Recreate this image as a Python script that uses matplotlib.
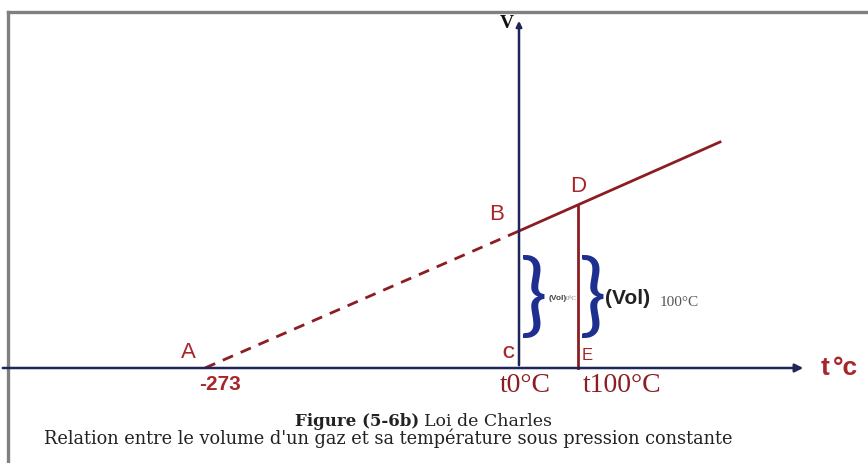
import matplotlib.pyplot as plt

# schematic coordinates (pixel-like units, y grows downward)
axis_y = 368
v_axis_x = 519
point_names = ['A', 'B', 'D']
point_x = [205, 519, 578]
point_y = [368, 231, 205]
line_end = (720, 142)
temp_labels = ['-273', 't0°C', 't100°C']
caption = ['Figure (5-6b)', 'Loi de Charles',
           "Relation entre le volume d'un gaz et sa température sous pression constante"]

navy = '#1e2558'
maroon = '#8c1d22'
red = '#a8262b'
blue = '#1f2f8f'

fig = plt.figure(figsize=(8.68, 4.63), dpi=100)
ax = fig.add_axes([0, 0, 1, 1])
ax.set_xlim(0, 868)
ax.set_ylim(463, 0)
ax.axis('off')

# frame (top + left only)
ax.plot([8, 868], [12, 12], color='#808080', lw=2.4)
ax.plot([8, 8], [12, 463], color='#808080', lw=2.4)

# axes
ax.annotate('', xy=(806, axis_y), xytext=(0, axis_y),
            arrowprops=dict(arrowstyle='-|>', color=navy, lw=1.8, mutation_scale=12))
ax.annotate('', xy=(v_axis_x, 18), xytext=(v_axis_x, axis_y),
            arrowprops=dict(arrowstyle='-|>', color=navy, lw=1.8, mutation_scale=8))
ax.text(v_axis_x - 12, 24, 'V', fontsize=14, fontweight='bold', family='Liberation Serif',
        ha='center', va='center', color='#111111')
ax.text(821, axis_y, 't', fontsize=19, fontweight='bold', family='Liberation Sans',
        ha='left', va='center', color=red)
ax.text(833, axis_y, '°c', fontsize=19, fontweight='bold', family='Liberation Sans',
        ha='left', va='center', color=red)

# dashed extrapolation A -> B and solid line B -> end
ax.plot(point_x[:2], point_y[:2], color=maroon, lw=2.0, ls=(0, (4, 3)))
ax.plot([point_x[1], line_end[0]], [point_y[1], line_end[1]], color=maroon, lw=2.0)
# vertical D -> E
ax.plot([point_x[2], point_x[2]], [point_y[2], axis_y], color=maroon, lw=2.0)

# point labels
ax.text(point_x[0] - 17, point_y[0] - 16, point_names[0], fontsize=16, family='Liberation Sans',
        ha='center', va='center', color=red)
ax.text(point_x[1] - 22, point_y[1] - 17, point_names[1], fontsize=16, family='Liberation Sans',
        ha='center', va='center', color=red)
ax.text(point_x[2], point_y[2] - 18, point_names[2], fontsize=16, family='Liberation Sans',
        ha='center', va='center', color=red)
ax.text(v_axis_x - 11, axis_y - 14, 'C', fontsize=12, family='Liberation Sans',
        ha='center', va='center', color=red, fontweight='bold')
ax.text(point_x[2] + 9, axis_y - 12, 'E', fontsize=12, family='Liberation Sans',
        ha='center', va='center', color=red)

# temperature labels
ax.text(point_x[0] + 15, axis_y + 16, temp_labels[0], fontsize=15, fontweight='bold',
        family='Liberation Sans', ha='center', va='center', color=red)
ax.text(v_axis_x + 6, axis_y + 17, temp_labels[1], fontsize=20, family='Liberation Serif',
        ha='center', va='center', color=maroon)
ax.text(point_x[2] + 44, axis_y + 17, temp_labels[2], fontsize=20, family='Liberation Serif',
        ha='center', va='center', color=maroon)

# braces
ax.text(v_axis_x + 15, 300, '}', fontsize=66, family='Lato', fontweight='normal',
        ha='center', va='center', color=blue)
ax.text(point_x[2] + 15, 300, '}', fontsize=66, family='Lato', fontweight='normal',
        ha='center', va='center', color=blue)
ax.text(v_axis_x + 30, 298, '(Vol)', fontsize=6, fontweight='bold', family='Liberation Sans',
        ha='left', va='center', color='#444444')
ax.text(v_axis_x + 47, 299, '0°C', fontsize=5, family='Liberation Serif',
        ha='left', va='center', color='#777777')
ax.text(point_x[2] + 27, 298, '(Vol)', fontsize=15, fontweight='bold', family='Liberation Sans',
        ha='left', va='center', color='#222222')
ax.text(point_x[2] + 82, 302, '100°C', fontsize=11, family='Liberation Serif',
        ha='left', va='center', color='#555555')

# caption
ax.text(419, 421, caption[0], fontsize=12, fontweight='bold', family='DejaVu Serif',
        ha='right', va='center', color='#222222')
ax.text(424, 421, caption[1], fontsize=12.5, family='DejaVu Serif',
        ha='left', va='center', color='#222222')
ax.text(388, 438, caption[2], fontsize=12.8, family='DejaVu Serif',
        ha='center', va='center', color='#222222')

fig.savefig('out.png', dpi=100)
